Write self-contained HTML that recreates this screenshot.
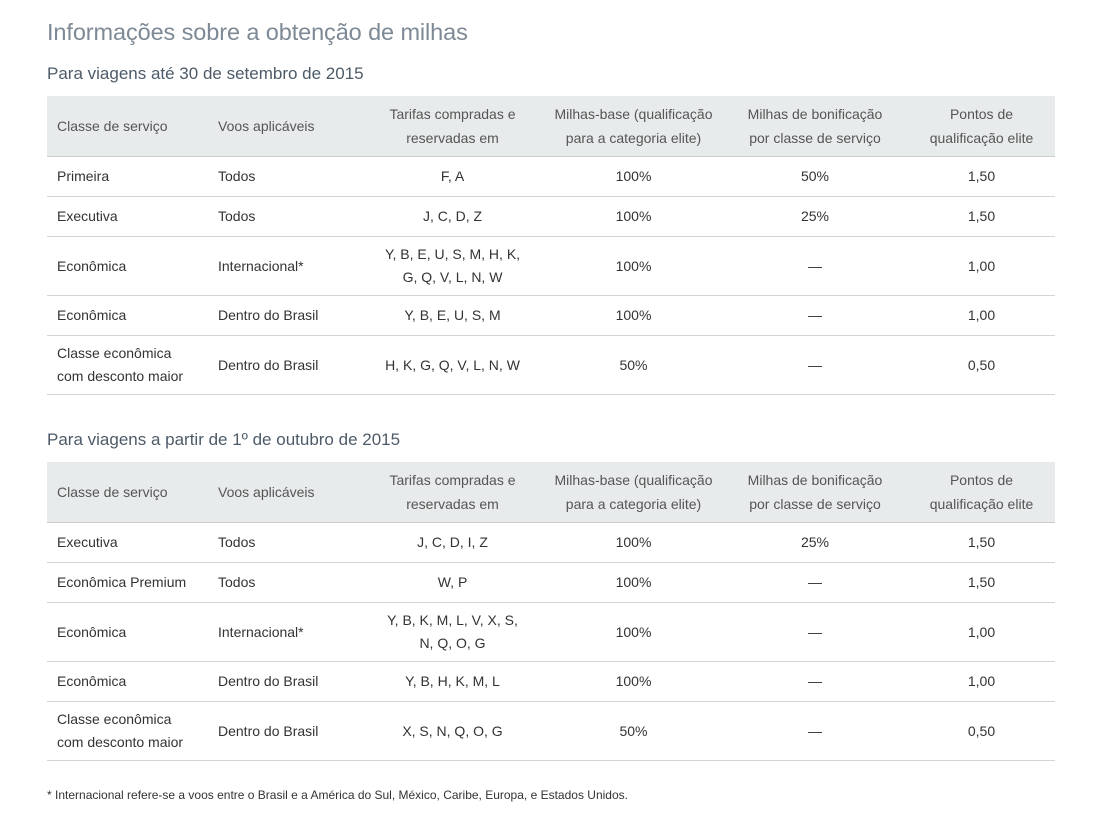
<!DOCTYPE html>
<html><head><meta charset="utf-8"><style>
body{margin:0;background:#fff;font-family:"Liberation Sans",Arial,sans-serif;color:#333;width:1118px;height:813px;position:relative;overflow:hidden}
h1{position:absolute;left:47px;top:19px;margin:0;font-weight:normal;font-size:23.5px;color:#7d8995;letter-spacing:-0.1px}
h2{position:absolute;left:47px;margin:0;font-weight:normal;font-size:17px;color:#4d5b68}
table{position:absolute;left:47px;border-collapse:collapse;table-layout:fixed;width:1008px;font-size:14px}
th{background:#e8ebec;font-weight:normal;color:#555;height:60px;border-bottom:1px solid #ccc;line-height:24px;padding:0}
td{border-bottom:1px solid #d4d4d4;text-align:center;padding:0;line-height:23px;color:#333}
td:first-child,th:first-child{text-align:left;padding-left:10px}
td:nth-child(2),th:nth-child(2){text-align:left;padding-left:10px}
tr.r1 td{height:39px}tr.r2 td{height:58px}
.fn{position:absolute;left:47px;top:788px;font-size:12px;color:#333}
</style></head><body>
<h1>Informações sobre a obtenção de milhas</h1>
<h2 style="top:64px">Para viagens até 30 de setembro de 2015</h2>
<table style="top:96px">
<colgroup><col style="width:161px"><col style="width:152px"><col style="width:185px"><col style="width:177px"><col style="width:186px"><col style="width:147px"></colgroup>
<tr><th>Classe de serviço</th><th>Voos aplicáveis</th><th>Tarifas compradas e<br>reservadas em</th><th>Milhas-base (qualificação<br>para a categoria elite)</th><th>Milhas de bonificação<br>por classe de serviço</th><th>Pontos de<br>qualificação elite</th></tr>
<tr class="r1"><td>Primeira</td><td>Todos</td><td>F, A</td><td>100%</td><td>50%</td><td>1,50</td></tr>
<tr class="r1"><td>Executiva</td><td>Todos</td><td>J, C, D, Z</td><td>100%</td><td>25%</td><td>1,50</td></tr>
<tr class="r2"><td>Econômica</td><td>Internacional*</td><td>Y, B, E, U, S, M, H, K,<br>G, Q, V, L, N, W</td><td>100%</td><td>—</td><td>1,00</td></tr>
<tr class="r1"><td>Econômica</td><td>Dentro do Brasil</td><td>Y, B, E, U, S, M</td><td>100%</td><td>—</td><td>1,00</td></tr>
<tr class="r2"><td>Classe econômica<br>com desconto maior</td><td>Dentro do Brasil</td><td>H, K, G, Q, V, L, N, W</td><td>50%</td><td>—</td><td>0,50</td></tr>
</table>
<h2 style="top:430px">Para viagens a partir de 1º de outubro de 2015</h2>
<table style="top:462px">
<colgroup><col style="width:161px"><col style="width:152px"><col style="width:185px"><col style="width:177px"><col style="width:186px"><col style="width:147px"></colgroup>
<tr><th>Classe de serviço</th><th>Voos aplicáveis</th><th>Tarifas compradas e<br>reservadas em</th><th>Milhas-base (qualificação<br>para a categoria elite)</th><th>Milhas de bonificação<br>por classe de serviço</th><th>Pontos de<br>qualificação elite</th></tr>
<tr class="r1"><td>Executiva</td><td>Todos</td><td>J, C, D, I, Z</td><td>100%</td><td>25%</td><td>1,50</td></tr>
<tr class="r1"><td>Econômica Premium</td><td>Todos</td><td>W, P</td><td>100%</td><td>—</td><td>1,50</td></tr>
<tr class="r2"><td>Econômica</td><td>Internacional*</td><td>Y, B, K, M, L, V, X, S,<br>N, Q, O, G</td><td>100%</td><td>—</td><td>1,00</td></tr>
<tr class="r1"><td>Econômica</td><td>Dentro do Brasil</td><td>Y, B, H, K, M, L</td><td>100%</td><td>—</td><td>1,00</td></tr>
<tr class="r2"><td>Classe econômica<br>com desconto maior</td><td>Dentro do Brasil</td><td>X, S, N, Q, O, G</td><td>50%</td><td>—</td><td>0,50</td></tr>
</table>
<div class="fn">* Internacional refere-se a voos entre o Brasil e a América do Sul, México, Caribe, Europa, e Estados Unidos.</div>
</body></html>
